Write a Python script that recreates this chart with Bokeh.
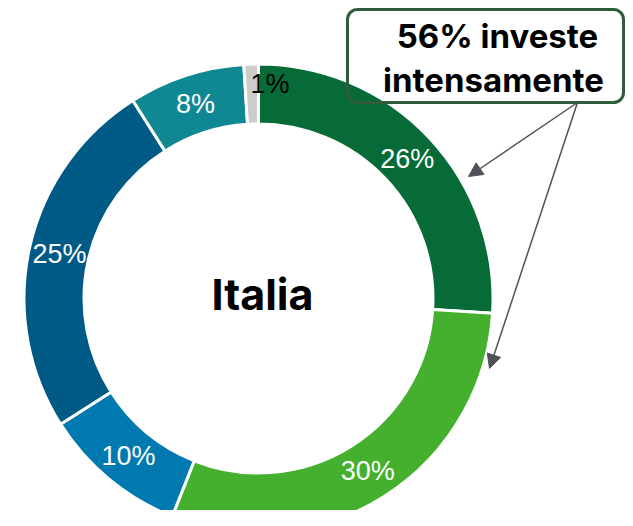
import numpy as np
from bokeh.plotting import figure
from bokeh.models import Range1d, Arrow, NormalHead, ColumnDataSource
from bokeh.core.properties import value
from bokeh.embed import file_html
from bokeh.resources import INLINE

# ---- data ----
labels = ["26%", "30%", "10%", "25%", "8%", "1%"]
shares = [26, 30, 10, 25, 8, 1]
colors = ["#066b36", "#44b02e", "#0079b0", "#005a86", "#108893", "#cccccc"]
label_colors = ["white", "white", "white", "white", "white", "black"]
center_title = "Italia"
callout_lines = ["56% investe", "intensamente"]

# ---- layout (image pixel coordinates; data y = 526 - image y) ----
W, H = 625, 510
def Y(img_y):
    return 526 - img_y

cx, cy = 258, Y(298)
r_out, r_in = 234.5, 174.5
r_lab = 204
label_shift = {"1%": (18, 11)}  # manual nudge for the tiny slice label

p = figure(width=W, height=H, x_range=Range1d(0, W), y_range=Range1d(526 - H, 526),
           output_backend="svg", toolbar_location=None, tools="")
p.axis.visible = False
p.grid.visible = False
p.outline_line_color = None
p.min_border = 0
p.background_fill_color = "white"
p.border_fill_color = "white"

cum = np.concatenate([[0], np.cumsum(shares)]) / 100.0
start = np.pi / 2 - 2 * np.pi * cum[:-1]
end = np.pi / 2 - 2 * np.pi * cum[1:]
mid = (start + end) / 2

src = ColumnDataSource(dict(start=start, end=end, color=colors))
p.annular_wedge(x=cx, y=cy, inner_radius=r_in, outer_radius=r_out,
                start_angle="start", end_angle="end", direction="clock",
                fill_color="color", line_color="white", line_width=3, source=src)

lx = cx + r_lab * np.cos(mid)
ly = cy + r_lab * np.sin(mid)
for i, lab in enumerate(labels):
    dx, dy = label_shift.get(lab, (0, 0))
    lx[i] += dx
    ly[i] += dy
p.text(x=lx, y=ly, text=labels, text_color=label_colors,
       text_font=value("Liberation Sans"), text_font_size="27px",
       text_align="center", text_baseline="middle")

p.text(x=[262], y=[Y(293)], text=[center_title], text_color="black",
       text_font=value("Inter"), text_font_style="bold", text_font_size="43px",
       text_align="center", text_baseline="middle")

# callout box
p.quad(left=347, right=623, top=Y(9), bottom=Y(102), fill_alpha=0,
       line_color="#2f5d3c", line_width=3, border_radius=10)
p.text(x=[497, 493], y=[Y(35), Y(79)], text=callout_lines, text_color="black",
       text_font=value("Inter"), text_font_style="bold", text_font_size="33px",
       text_align="center", text_baseline="middle")

acol = "#505258"
for (xe, ye) in [(468, 176), (489, 368)]:
    p.add_layout(Arrow(x_start=577, y_start=Y(102), x_end=xe, y_end=Y(ye),
                       line_color=acol, line_width=1.5,
                       end=NormalHead(size=14, fill_color=acol, line_color=acol)))

open("out.html", "w").write(file_html(p, INLINE))
